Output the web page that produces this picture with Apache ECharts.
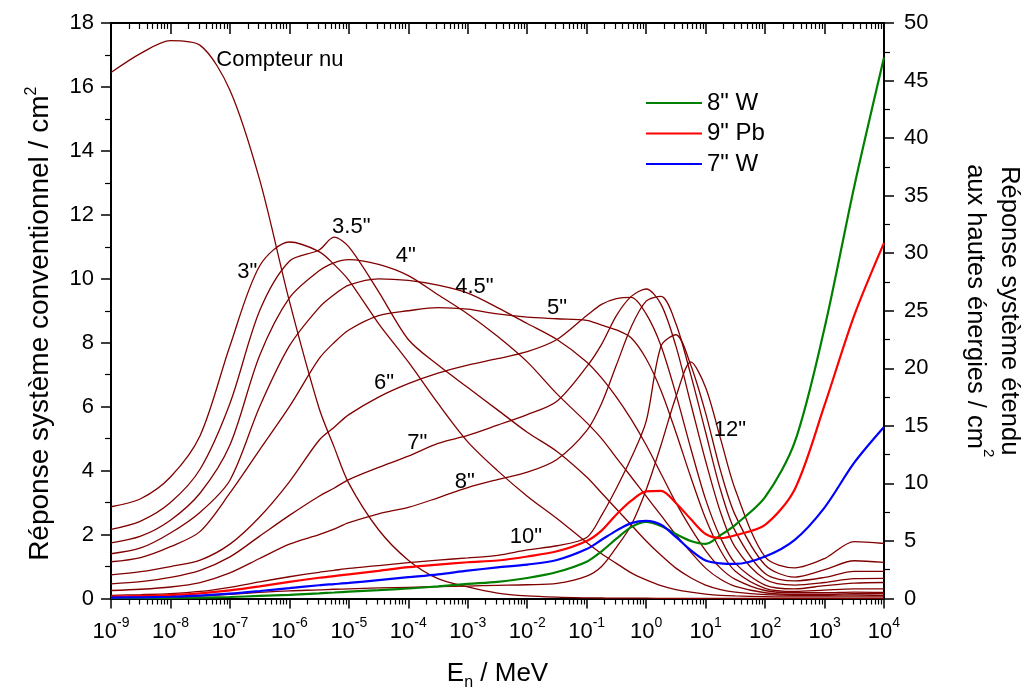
<!DOCTYPE html>
<html><head><meta charset="utf-8">
<script src="https://cdn.jsdelivr.net/npm/echarts@6/dist/echarts.min.js"></script>
<style>html,body{margin:0;padding:0;background:#fff}#c{width:1027px;height:695px}</style>
</head><body><div id="c"></div>
<script>
// Neutron energies (MeV) at which the curves were read
const energies = [1e-9, 3.16e-9, 1e-8, 3.16e-8, 1e-7, 3.16e-7, 1e-6, 3.16e-6, 5.62e-6, 1e-5,
  3.16e-5, 1e-4, 3.16e-4, 1e-3, 3.16e-3, 1e-2, 3.16e-2, 0.1, 0.178, 0.316, 0.562, 1,
  1.78, 3.16, 5.62, 10, 17.8, 31.6, 100, 316, 1000, 3160, 10000];

// Conventional system (left axis, cm^2)
const bare = [16.45,17.05,17.45,17.3,15.9,13.1,9.3,5.95,4.75,3.6,2.15,1.2,0.62,0.36,0.17,0.08,0.04,0.02,0.015,0.01,0.01,0.01,0.005,0,0,0,0,0,0,0,0,0,0];
const s3   = [2.87,3.12,3.8,5.1,7.9,10.4,11.15,10.85,10.45,9.95,8.6,7.4,6.1,4.9,4.0,3.2,2.5,1.75,1.4,1.1,0.8,0.58,0.4,0.28,0.2,0.14,0.1,0.08,0.06,0.05,0.05,0.05,0.05];
const s35  = [2.16,2.42,3.0,4.05,6.1,9.0,10.55,10.9,11.3,11.0,9.6,8.1,7.3,6.6,5.9,5.2,4.6,3.8,3.3,2.8,2.3,1.8,1.35,0.95,0.65,0.42,0.28,0.2,0.12,0.1,0.1,0.11,0.1];
const s4   = [1.74,1.95,2.45,3.3,4.8,7.6,9.4,10.25,10.5,10.6,10.45,10.1,9.5,8.9,8.2,7.4,6.4,5.5,5.0,4.4,3.8,3.2,2.6,2.0,1.45,0.95,0.6,0.38,0.18,0.13,0.13,0.15,0.15];
const s45  = [1.40,1.58,2.05,2.7,3.7,6.0,7.9,9.1,9.5,9.8,10.0,9.95,9.8,9.55,9.1,8.6,8.1,7.4,6.9,6.3,5.6,4.8,3.9,3.0,2.2,1.5,0.95,0.6,0.25,0.18,0.18,0.2,0.19];
const s5   = [1.15,1.28,1.62,2.1,3.3,4.65,6.0,7.5,8.0,8.4,8.85,9.0,9.1,9.05,8.9,8.8,8.75,8.7,8.55,8.4,8.15,7.5,6.5,5.2,3.8,2.5,1.5,0.85,0.32,0.22,0.26,0.3,0.3];
const s6   = [0.74,0.84,1.0,1.2,1.7,2.55,3.65,4.95,5.35,5.75,6.3,6.72,7.05,7.3,7.5,7.72,8.1,8.85,9.2,9.38,9.42,8.9,7.9,6.4,4.7,3.1,1.9,1.1,0.42,0.3,0.4,0.48,0.5];
const s7   = [0.46,0.53,0.66,0.88,1.3,1.95,2.6,3.2,3.45,3.72,4.1,4.45,4.85,5.1,5.42,5.75,6.17,7.25,7.95,8.85,9.45,9.68,9.2,7.9,6.1,4.3,2.7,1.6,0.6,0.42,0.5,0.62,0.63];
const s8   = [0.25,0.29,0.36,0.5,0.8,1.25,1.7,2.0,2.17,2.37,2.65,2.85,3.15,3.47,3.72,3.95,4.35,5.25,6.1,7.3,8.5,9.3,9.45,8.6,7.0,5.2,3.4,2.1,0.78,0.55,0.66,0.85,0.85];
const s10  = [0.1,0.12,0.15,0.22,0.35,0.52,0.68,0.82,0.88,0.94,1.03,1.12,1.2,1.27,1.35,1.52,1.65,1.91,2.6,3.45,4.4,5.54,7.9,8.25,7.3,5.8,4.0,2.6,1.05,0.67,0.9,1.18,1.13];
const s12  = [0.03,0.04,0.05,0.08,0.13,0.19,0.24,0.27,0.29,0.3,0.33,0.35,0.37,0.39,0.41,0.43,0.47,0.7,1.0,1.6,2.3,3.4,4.8,6.3,7.4,6.6,5.0,3.4,1.3,0.96,1.25,1.78,1.72];

// Extended high-energy system (right axis, cm^2)
const w8  = [0.02,0.03,0.05,0.08,0.13,0.22,0.32,0.45,0.52,0.6,0.72,0.87,1.05,1.27,1.45,1.78,2.3,3.2,4.1,5.2,6.2,6.65,6.3,5.6,5.0,4.75,5.5,6.4,8.8,13.6,23.5,35.8,47.0];
const pb9 = [0.17,0.22,0.3,0.45,0.7,1.05,1.45,1.8,1.95,2.1,2.4,2.72,2.95,3.15,3.3,3.65,4.1,5.0,5.9,7.3,8.5,9.3,9.35,8.3,6.9,5.6,5.25,5.5,6.4,9.5,16.8,24.6,30.9];
const w7  = [0.08,0.1,0.15,0.25,0.42,0.65,0.9,1.15,1.25,1.35,1.6,1.85,2.1,2.42,2.7,2.95,3.35,4.3,5.1,5.9,6.55,6.75,6.4,5.35,4.2,3.3,3.05,3.0,3.65,5.1,7.9,11.8,14.9];

const sphereNames = ['Compteur nu','3"','3.5"','4"','4.5"','5"','6"','7"','8"','10"','12"'];
const sphereData  = [bare, s3, s35, s4, s45, s5, s6, s7, s8, s10, s12];
const extNames = ['8" W', '9" Pb', '7" W'];
const extData  = [w8, pb9, w7];
const extColors = ['#008000', '#ff0000', '#0000ff'];

// Curve labels: text, energy (MeV), left-axis value
const labelTexts = ['Compteur nu','3"','3.5"','4"','4.5"','5"','6"','7"','8"','10"','12"'];
const labelE     = [5.9e-8, 1.95e-7, 1.1e-5, 9.1e-5, 1.29e-3, 3.16e-2, 3.9e-5, 1.41e-4, 8.9e-4, 9.5e-3, 25.7];
const labelV     = [16.84, 10.21, 11.62, 10.71, 9.74, 9.09, 6.74, 4.86, 3.64, 1.92, 5.27];

const FONT = 'Liberation Sans, Arial, sans-serif';
const DARK = '#800000';

// minor tick positions (decorative, log10 of 2..9 x decade)
const minorTicks = [];
for (let d = -9; d < 4; d++) for (let k = 2; k <= 9; k++) minorTicks.push(d + Math.log10(k));

const pair = vals => energies.map((e, i) => [e, vals[i]]);

const series = [];
sphereData.forEach((vals, i) => {
  series.push({
    name: sphereNames[i], type: 'line', xAxisIndex: 0, yAxisIndex: 0,
    data: pair(vals), showSymbol: false, symbol: 'none', smooth: 0.3,
    lineStyle: { color: DARK, width: 1.3 }, itemStyle: { color: DARK }, z: 2
  });
});
extData.forEach((vals, i) => {
  series.push({
    name: extNames[i], type: 'line', xAxisIndex: 0, yAxisIndex: 1,
    data: pair(vals), showSymbol: false, symbol: 'none', smooth: 0.3,
    lineStyle: { color: extColors[i], width: 2.2 }, itemStyle: { color: extColors[i] }, z: 3
  });
});
const labelStyle = {
  show: true, position: [0, 0], verticalAlign: 'middle',
  fontSize: 22, fontFamily: FONT, color: '#000', opacity: 1,
  textBorderWidth: 0, textShadowBlur: 0
};
series.push({
  name: 'labels', type: 'scatter', xAxisIndex: 0, yAxisIndex: 0, symbolSize: 0, z: 4,
  silent: true, itemStyle: { color: '#000', opacity: 1 },
  data: labelTexts.map((t, i) => ({
    value: [labelE[i], labelV[i]], name: t,
    label: Object.assign({}, labelStyle, { align: i === 0 ? 'left' : 'center', formatter: t })
  })),
  label: labelStyle
});

const axisLine = { show: true, onZero: false, lineStyle: { color: '#000', width: 2 } };
const majorX = {
  type: 'value', min: -9, max: 4, interval: 1, gridIndex: 0,
  splitLine: { show: false }
};

const option = {
  animation: false,
  backgroundColor: '#fff',
  textStyle: { fontFamily: FONT, color: '#000' },
  grid: { left: 111, right: 143, top: 23, bottom: 96.5, containLabel: false, outerBoundsMode: 'none' },
  legend: {
    orient: 'vertical', left: 641, top: 86, itemWidth: 56, itemHeight: 2, itemGap: 6.5,
    textStyle: { fontSize: 24, fontFamily: FONT, color: '#000' },
    data: extNames.map(n => ({ name: n, icon: 'rect' })),
    selectedMode: false
  },
  xAxis: [
    { type: 'log', logBase: 10, min: 1e-9, max: 1e4, show: false, gridIndex: 0 },
    Object.assign({}, majorX, {
      position: 'bottom', axisLine,
      axisTick: { show: true, length: 10, lineStyle: { color: '#000', width: 1.5 } },
      axisLabel: {
        show: true, margin: 18, color: '#000',
        formatter: v => '{a|10}{s|' + Math.round(v) + '}',
        rich: {
          a: { fontSize: 22, fontFamily: FONT, color: '#000', lineHeight: 26, verticalAlign: 'bottom' },
          s: { fontSize: 14, fontFamily: FONT, color: '#000', lineHeight: 14, verticalAlign: 'top' }
        }
      },
      name: '{a|E}{s|n}{a| / MeV}', nameLocation: 'middle', nameGap: 62,
      nameTextStyle: {
        rich: {
          a: { fontSize: 26, fontFamily: FONT, color: '#000', lineHeight: 30, verticalAlign: 'top' },
          s: { fontSize: 16, fontFamily: FONT, color: '#000', lineHeight: 16, verticalAlign: 'bottom' }
        }
      }
    }),
    Object.assign({}, majorX, {
      position: 'bottom', axisLine: { show: false }, axisLabel: { show: false },
      axisTick: { show: true, length: 6, customValues: minorTicks, lineStyle: { color: '#000', width: 1.2 } }
    }),
    Object.assign({}, majorX, {
      position: 'top', axisLine, axisLabel: { show: false },
      axisTick: { show: true, inside: true, length: 11, lineStyle: { color: '#000', width: 1.5 } }
    }),
    Object.assign({}, majorX, {
      position: 'top', axisLine: { show: false }, axisLabel: { show: false },
      axisTick: { show: true, inside: true, length: 6, customValues: minorTicks, lineStyle: { color: '#000', width: 1.2 } }
    })
  ],
  yAxis: [
    {
      type: 'value', min: 0, max: 18, interval: 2, position: 'left',
      axisLine, splitLine: { show: false },
      axisTick: { show: true, length: 10, lineStyle: { color: '#000', width: 1.5 } },
      minorTick: { show: true, splitNumber: 2, length: 6, lineStyle: { color: '#000', width: 1.2 } },
      axisLabel: { fontSize: 22, color: '#000', margin: 17, fontFamily: FONT },
      name: '{a|Réponse système conventionnel / cm}{s|2}', nameLocation: 'middle', nameGap: 57,
      nameTextStyle: {
        padding: [0, 26, 0, 0],
        rich: {
          a: { fontSize: 28, fontFamily: FONT, color: '#000', lineHeight: 30, verticalAlign: 'bottom' },
          s: { fontSize: 16, fontFamily: FONT, color: '#000', lineHeight: 16, verticalAlign: 'top' }
        }
      }
    },
    {
      type: 'value', min: 0, max: 50, interval: 5, position: 'right',
      axisLine, splitLine: { show: false },
      axisTick: { show: true, length: 10, lineStyle: { color: '#000', width: 1.5 } },
      minorTick: { show: true, splitNumber: 2, length: 6, lineStyle: { color: '#000', width: 1.2 } },
      axisLabel: { fontSize: 22, color: '#000', margin: 20, fontFamily: FONT },
      name: '{a|Réponse système étendu}\n{a|aux hautes énergies / cm}{s|2}',
      nameLocation: 'middle', nameGap: 78, nameRotate: -90,
      nameTextStyle: {
        rich: {
          a: { fontSize: 25.5, fontFamily: FONT, color: '#000', lineHeight: 34, verticalAlign: 'bottom' },
          s: { fontSize: 15, fontFamily: FONT, color: '#000', lineHeight: 15, verticalAlign: 'top' }
        }
      }
    }
  ],
  series
};

const chart = echarts.init(document.getElementById('c'), null, { renderer: 'canvas' });
chart.setOption(option);
</script>
</body></html>
